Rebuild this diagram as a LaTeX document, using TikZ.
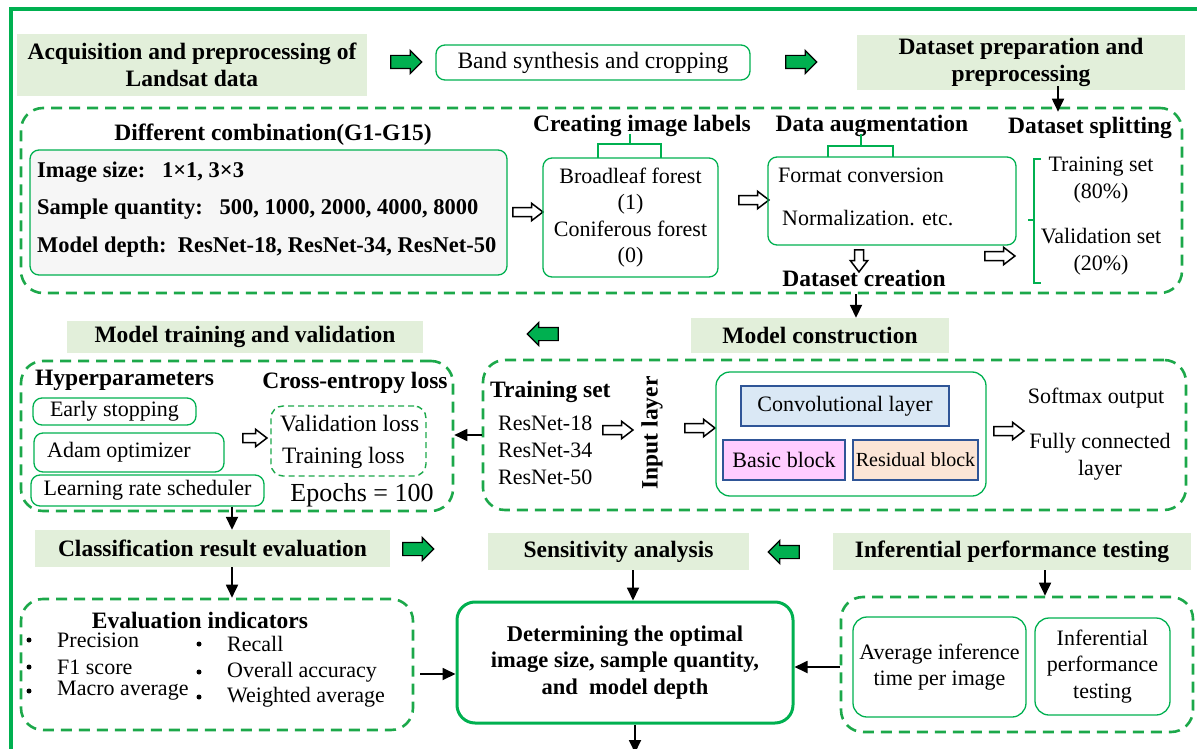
\documentclass[tikz,border=0pt]{standalone}
\usepackage{fontspec}
\setmainfont{Liberation Serif}
\usetikzlibrary{arrows.meta,shapes.arrows,positioning}

\definecolor{frgreen}{RGB}{0,176,80}
\definecolor{dsgreen}{RGB}{28,168,74}
\definecolor{hdfill}{RGB}{226,239,218}
\definecolor{boxgray}{RGB}{246,246,246}
\definecolor{convfill}{RGB}{218,232,245}
\definecolor{convline}{RGB}{47,85,151}
\definecolor{basicfill}{RGB}{255,204,255}
\definecolor{resfill}{RGB}{251,229,214}

\newcommand{\bodyfs}{\fontsize{22}{26.5}\selectfont}
\newcommand{\bigfs}{\fontsize{23.5}{27}\selectfont}
\newcommand{\headfs}{\fontsize{23.5}{26.5}\selectfont\bfseries}
\newcommand{\midfs}{\fontsize{22.5}{26.5}\selectfont\bfseries}

\begin{document}
\begin{tikzpicture}[x=1pt,y=-1pt,>={Triangle[length=13pt,width=12pt]},
  head/.style={fill=hdfill,font=\headfs,align=center,inner sep=0pt},
  bold/.style={font=\headfs,inner sep=0pt},
  txt/.style={font=\bodyfs,inner sep=0pt,align=center},
  rbox/.style={draw=frgreen,line width=1.3pt,rounded corners=9pt,inner sep=0pt},
  dbox/.style={draw=dsgreen,line width=2.6pt,dash pattern=on 11pt off 7pt,rounded corners=22pt,inner sep=0pt},
  sbox/.style={draw=convline,line width=1.6pt,inner sep=0pt,font=\bodyfs},
  garrow/.style={single arrow,draw=black,fill=frgreen,line width=1.2pt,minimum height=31pt,
                 text height=6pt,text depth=6pt,text width=0pt,single arrow head extend=5pt,inner sep=0pt},
  warrow/.style={single arrow,draw=black,fill=white,line width=1.5pt,minimum height=30pt,
                 text height=3.75pt,text depth=3.75pt,text width=0pt,single arrow head extend=4.25pt,
                 single arrow tip angle=75,inner sep=0pt},
  blk/.style={->,line width=1.8pt},
  frame/.style={draw=frgreen,line width=3.5pt}]

\useasboundingbox (0,0) rectangle (1197,749);
\draw[frame] (1210,9) -| (11,760);

% top row
\node[head,minimum width=350,minimum height=62] (acq) at (192,65) {Acquisition and preprocessing of\\Landsat data};
\node[garrow] (ga1) at (403,62) {};
\node[rbox,txt,font=\bigfs,minimum width=314,minimum height=35] (band) at (593,62.5) {Band synthesis and cropping};
\node[garrow] (ga2) at (798,62) {};
\node[head,minimum width=328,minimum height=55] (prep) at (1021,62.5) {Dataset preparation and\\preprocessing};

% dataset preparation
\node[dbox,minimum width=1161,minimum height=185] (dprep) at (601.5,200.5) {};
\node[bold] (combt) at (273,135) {Different combination(G1-G15)};
\node[rbox,fill=boxgray,minimum width=477,minimum height=125] (comb) at (268.5,212.5) {};
\node[bold,font=\midfs,anchor=west] (isize) at (37,172) {Image size:\enspace\ 1×1, 3×3};
\node[bold,font=\midfs,anchor=west] (squant) at (37,209) {Sample quantity:\enspace\ 500, 1000, 2000, 4000, 8000};
\node[bold,font=\midfs,anchor=west] (mdepth) at (37,247) {Model depth:\enspace ResNet-18, ResNet-34, ResNet-50};
\node[warrow] (wa1) at (525,212) {};

\node[bold] (labt) at (642,126) {Creating image labels};
\node[rbox,txt,minimum width=175,minimum height=119] (labels) at (630.5,217.5) {Broadleaf forest\\(1)\\Coniferous forest\\(0)};
\draw[frgreen,line width=1.3pt] (630,134) -- (630,144) (598,158) |- (661,144) -- (661,158);
\node[warrow] (wa2) at (751,200) {};

\node[bold] (augt) at (872,126) {Data augmentation};
\node[rbox,minimum width=248,minimum height=88] (aug) at (892,201) {};
\draw[frgreen,line width=1.3pt] (861,134) -- (861,146) (828,157) |- (893,146) -- (893,157);
\node[txt,anchor=west] (fmt) at (778,175) {Format conversion};
\node[txt,anchor=west] (norm) at (782,218) {Normalization. etc.};
\node[warrow,shape border rotate=270,minimum height=22pt,text width=7.5pt,text height=0pt,text depth=0pt] (wa3) at (859,258) {};
\node[bold] (dcreate) at (864,278) {Dataset creation};
\node[warrow] (wa4) at (997,256) {};

\node[bold] (splitt) at (1090,128) {Dataset splitting};
\draw[frgreen,line width=1.3pt] (1041,159) -| (1034,283) -- (1041,283) (1034,220) -- (1028,220);
\node[txt] (trs) at (1101,180) {Training set\\(80\%)};
\node[txt] (vas) at (1101,251.5) {Validation set\\(20\%)};

% second row
\node[head,minimum width=356,minimum height=32] (train) at (245,337) {Model training and validation};
\node[garrow,shape border rotate=180] (ga3) at (546,334) {};
\node[head,minimum width=258,minimum height=35] (constr) at (820,335.5) {Model construction};

\coordinate (c1) at (1058,0);
\coordinate (c2) at (856,0);
\draw[blk] ([yshift=4]prep.south -| c1) -- ([yshift=-5]dprep.north -| c1);
\draw[blk] (dprep.south -| c2) -- (constr.north -| c2);

% model training
\node[dbox,minimum width=432,minimum height=150] (dtrain) at (237,436) {};
\node[bold,anchor=west] (hypt) at (35,380) {Hyperparameters};
\node[bold] (cet) at (355,383) {Cross-entropy loss};
\node[rbox,txt,minimum width=163,minimum height=27] (early) at (114.5,411.5) {Early stopping};
\node[rbox,minimum width=190,minimum height=39] (adam) at (129,452.5) {};
\node[txt] (adamt) at (119,452.5) {Adam optimizer};
\node[rbox,txt,minimum width=233,minimum height=31] (lrs) at (147.5,490.5) {Learning rate scheduler};
\node[warrow,minimum height=24pt] (wa5) at (252,438) {};
\node[dbox,line width=1.4pt,dash pattern=on 6pt off 4pt,rounded corners=12pt,minimum width=155,minimum height=70] (loss) at (348.5,441) {};
\node[txt,font=\bigfs,anchor=west] (vloss) at (280,424) {Validation loss};
\node[txt,font=\bigfs,anchor=west] (tloss) at (282,458) {Training loss};
\node[txt,font=\fontsize{26}{30}\selectfont] (epochs) at (362,495) {Epochs = 100};

% model construction
\node[dbox,minimum width=703,minimum height=150] (dconstr) at (834.5,435) {};
\node[bold,anchor=west] (tset) at (490,392) {Training set};
\node[txt,anchor=west] (r18) at (498,423) {ResNet-18};
\node[txt,anchor=west] (r34) at (498,450) {ResNet-34};
\node[txt,anchor=west] (r50) at (498,477) {ResNet-50};
\node[warrow] (wa6) at (615,430) {};
\node[bold,rotate=90] (inl) at (652,433) {Input layer};
\node[warrow] (wa7) at (697,428) {};
\node[rbox,rounded corners=14pt,minimum width=270,minimum height=124] (net) at (851,434) {};
\node[sbox,fill=convfill,minimum width=208,minimum height=40] (conv) at (845,406) {Convolutional layer};
\node[sbox,fill=basicfill,minimum width=122,minimum height=40] (basic) at (784,460) {Basic block};
\node[sbox,fill=resfill,minimum width=125,minimum height=40,font=\fontsize{20}{24}\selectfont] (resid) at (915.5,460) {Residual block};
\node[warrow] (wa8) at (1006,431) {};
\node[txt] (soft) at (1096,398) {Softmax output};
\node[txt] (fcl) at (1100,456.5) {Fully connected\\layer};

\draw[blk] (dconstr.west) -- (dconstr.west -| dtrain.east);

% third row
\node[head,minimum width=355,minimum height=37] (cls) at (212.5,548.5) {Classification result evaluation};
\node[garrow] (ga4) at (415,549) {};
\node[head,minimum width=261,minimum height=37] (sens) at (618.5,551.5) {Sensitivity analysis};
\node[garrow,shape border rotate=180] (ga5) at (787,552) {};
\node[head,minimum width=358,minimum height=37] (inf) at (1012,551.5) {Inferential performance testing};

\coordinate (c3) at (232,0);
\coordinate (c4) at (633,0);
\coordinate (c5) at (1045,0);
\coordinate (r1) at (0,674);
\coordinate (r2) at (0,667);
\draw[blk] (lrs.south -| c3) -- (cls.north -| c3);

% evaluation
\node[dbox,minimum width=392,minimum height=131] (deval) at (217,664.5) {};
\node[bold] (evt) at (200,620) {Evaluation indicators};
\foreach \y/\t in {640/Precision,667/F1 score,691/Macro average}{
  \fill (29,\y) circle (2.5);
  \node[txt,anchor=west] at (57,\y) {\t};
}
\foreach \y/\t in {644/Recall,672/Overall accuracy,697/Weighted average}{
  \fill (199,\y) circle (2.5);
  \node[txt,anchor=west] at (227,\y) {\t};
}
\draw[blk] (cls.south -| c3) -- (deval.north -| c3);

% optimal choice
\node[rbox,line width=3pt,rounded corners=18pt,minimum width=336,minimum height=121,font=\midfs,align=center] (best) at (625,662.5)
  {Determining the optimal\\image size, sample quantity,\\and\ \ model depth};
\coordinate (out) at (635,753);
\draw[blk] (sens.south -| c4) -- (best.north -| c4);
\draw[blk] (best.south -| out) -- (out);
\draw[blk,shorten <=6pt] (deval.east |- r1) -- (best.west |- r1);

% inference testing
\node[dbox,minimum width=352,minimum height=135] (dinf) at (1017,664.5) {};
\node[rbox,txt,rounded corners=14pt,minimum width=173,minimum height=100] (avg) at (939.5,667) {Average inference\\time per image};
\node[rbox,txt,rounded corners=14pt,minimum width=135,minimum height=97] (inft) at (1102.5,666.5) {Inferential\\performance\\testing};
\draw[blk] (inf.south -| c5) -- (dinf.north -| c5);
\draw[blk] (dinf.west |- r2) -- (best.east |- r2);

\end{tikzpicture}
\end{document}
